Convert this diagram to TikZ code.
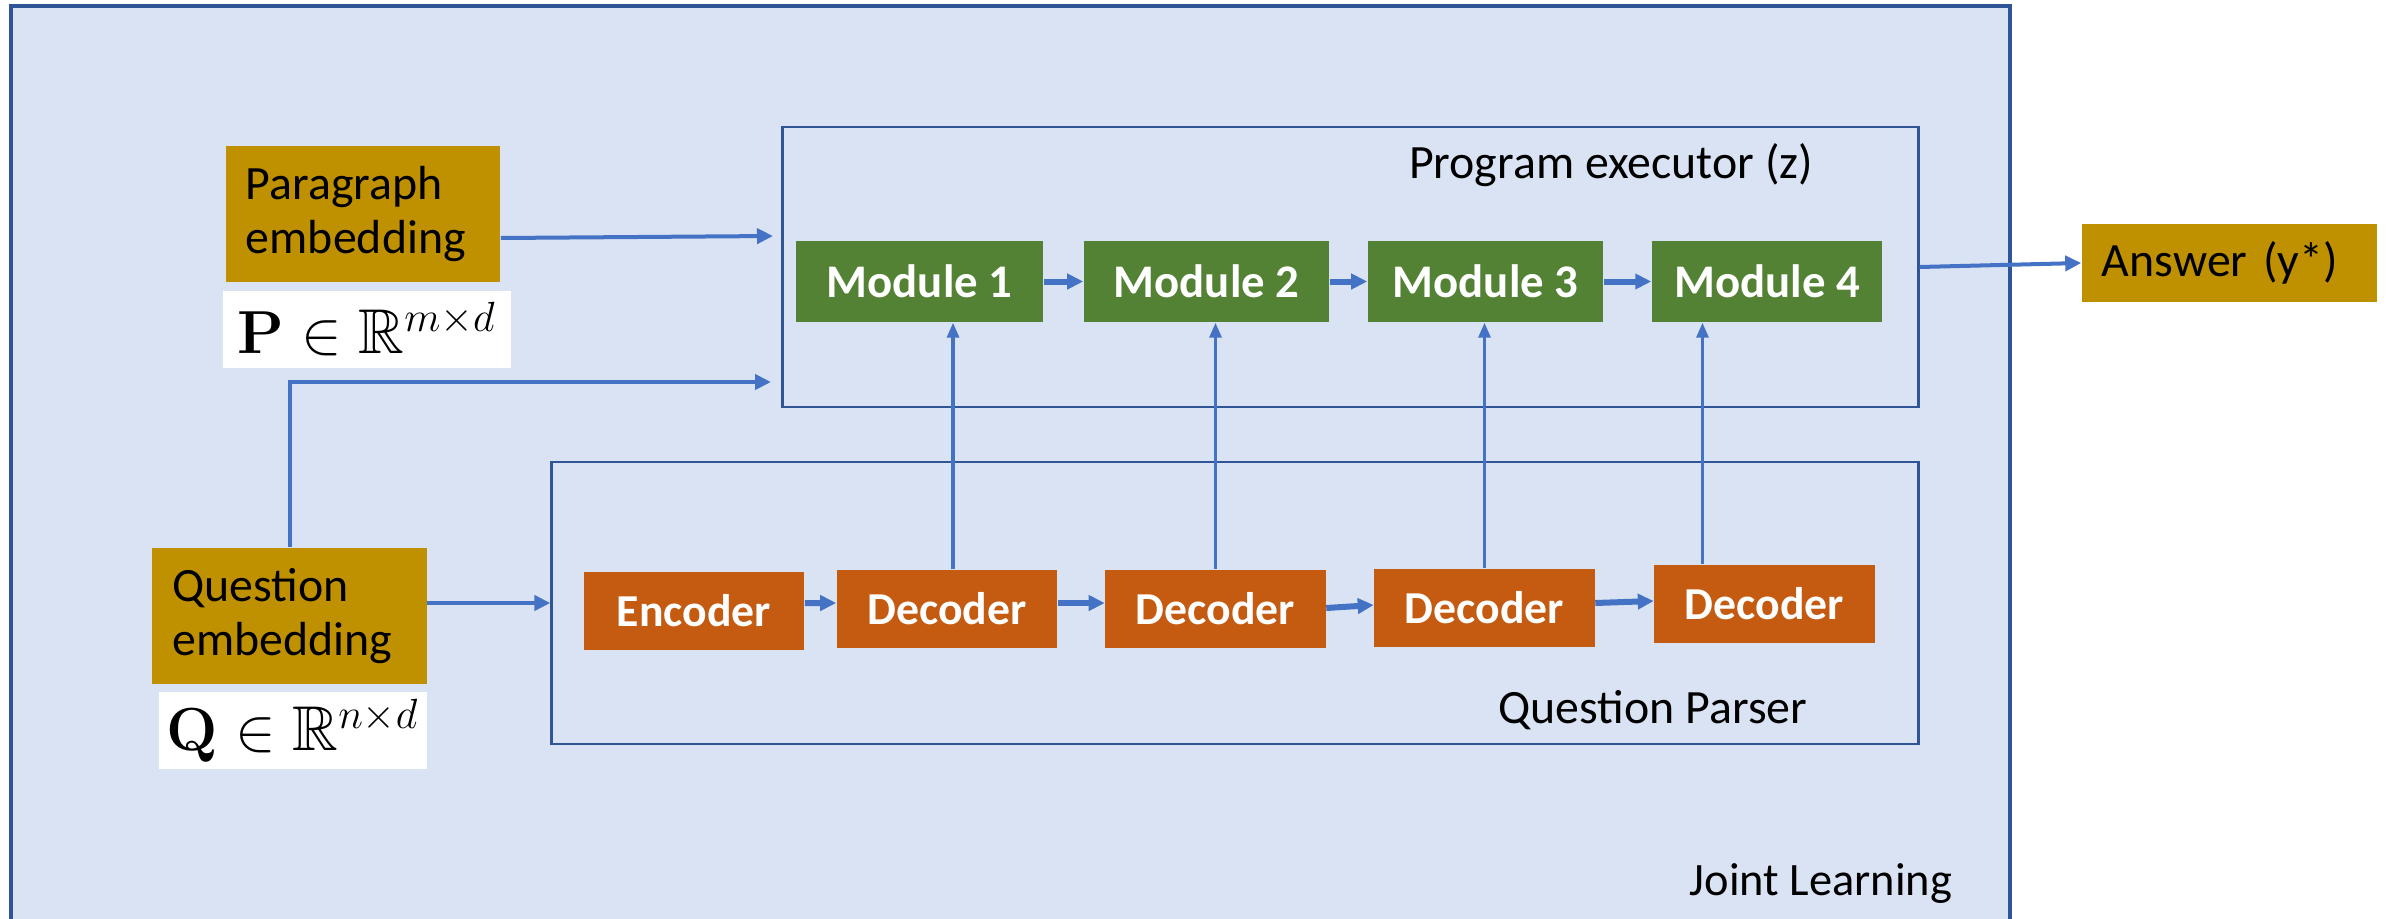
\documentclass[tikz,border=0pt]{standalone}
\usepackage{amsmath,amssymb}
\usepackage[no-math]{fontspec}
\setmainfont{Carlito}
\usetikzlibrary{arrows.meta,positioning}

\definecolor{jointfill}{HTML}{DAE3F3}
\definecolor{frameblue}{HTML}{2F5597}
\definecolor{arrowblue}{HTML}{4472C4}
\definecolor{embedgold}{HTML}{BF9000}
\definecolor{modgreen}{HTML}{548235}
\definecolor{parseorange}{HTML}{C55A11}

\begin{document}
\begin{tikzpicture}[
    x=0.01cm, y=-0.01cm,
    embed/.style={
        rectangle,
        fill=embedgold,
        minimum height=1.36cm,
        inner xsep=0.2cm,
        text width=2.34cm,
        align=left,
        font=\fontsize{13.6}{15.6}\selectfont
    },
    mathbox/.style={
        rectangle,
        fill=white,
        minimum height=0.76cm,
        inner sep=0pt,
        font=\fontsize{18}{21}\selectfont
    },
    module/.style={
        rectangle,
        fill=modgreen,
        text=white,
        minimum height=0.81cm,
        font=\fontsize{13.3}{16}\selectfont\bfseries
    },
    coder/.style={
        rectangle,
        fill=parseorange,
        text=white,
        minimum width=2.2cm,
        minimum height=0.78cm,
        font=\fontsize{13}{16}\selectfont\bfseries
    },
    stage/.style={
        rectangle,
        draw=frameblue,
        line width=0.025cm
    },
    caption/.style={anchor=base, font=\fontsize{13.6}{16}\selectfont},
    flow/.style={draw=arrowblue, line width=0.04cm, -{Triangle[length=0.16cm,width=0.15cm]}},
    hop/.style={flow, line width=0.06cm},
    feed/.style={flow, line width=0.032cm, -{Triangle[length=0.15cm,width=0.12cm]}}
]
\useasboundingbox (0,0) rectangle (2392,918);
\clip (0,0) rectangle (2392,918);

% Joint learning frame
\draw[fill=jointfill, draw=frameblue, line width=0.033cm] (11,6) rectangle (2010,940);
\node[caption, font=\fontsize{13.2}{16}\selectfont] (joint) at (1821,895) {Joint Learning};

% Program executor
\node[stage, minimum width=11.35cm, minimum height=2.8cm] (exec) at (1350.5,267) {};
\node[caption] (execname) at (1611,178) {Program executor (z)};
\node[module, minimum width=2.47cm] (mod1) at (919.5,281.5) {Module 1};
\node[module, minimum width=2.45cm] (mod2) at (1206.5,281.5) {Module 2};
\node[module, minimum width=2.35cm] (mod3) at (1485.5,281.5) {Module 3};
\node[module, minimum width=2.30cm] (mod4) at (1767,281.5) {Module 4};

% Question parser
\node[stage, minimum width=13.66cm, minimum height=2.82cm] (parser) at (1235,603) {};
\node[caption] (parsername) at (1653,723) {Question Parser};
\node[coder] (enc) at (694,611) {Encoder};
\node[coder] (dec1) at (947,609) {Decoder};
\node[coder] (dec2) at (1215.5,609) {Decoder};
\node[coder] (dec3) at (1484.5,608) {Decoder};
\node[coder] (dec4) at (1764.5,604) {Decoder};

% Inputs
\node[embed] (para) at (363,214) {Paragraph\\embedding};
\node[mathbox, minimum width=2.87cm, below=0.08cm of para, xshift=0.04cm] (plabel) {$\mathbf{P} \in \mathbb{R}^{m\times d}$};
\node[embed] (quest) at (289.5,616) {Question\\embedding};
\node[mathbox, minimum width=2.68cm, below=0.07cm of quest, xshift=0.035cm] (qlabel) {$\mathbf{Q} \in \mathbb{R}^{n\times d}$};

% Output
\node[embed, text width=2.55cm, minimum height=0.78cm, font=\fontsize{13.6}{16}\selectfont] (answer) at (2229.5,263) {Answer (y*)};

% Connectors
\coordinate (pin) at (773,236);
\coordinate (qin) at (771,382);
\draw[flow] (para.east |- 0,238) -- (pin);
\draw[flow] (quest.north) |- (qin);
\draw[flow] ([yshift=0.13cm]quest.east) -- ([yshift=0.13cm]quest.east -| parser.west);
\draw[flow] (exec.east) -- (answer.west);

\draw[hop] (mod1) -- (mod2);
\draw[hop] (mod2) -- (mod3);
\draw[hop] (mod3) -- (mod4);

\draw[hop] ([yshift=0.08cm]enc.east) -- ([yshift=0.06cm]dec1.west);
\draw[hop] ([yshift=0.06cm]dec1.east) -- ([yshift=0.06cm]dec2.west);
\draw[hop] ([yshift=0.01cm]dec2.east) -- ([yshift=0.03cm]dec3.west);
\draw[hop] ([yshift=0.05cm]dec3.east) -- ([yshift=0.03cm]dec4.west);

\foreach \n/\dx in {1/6, 2/0, 3/0, 4/-62} {
    \coordinate (f\n) at ([xshift=\dx*0.01cm]dec\n.north);
    \draw[feed] (f\n) -- (f\n |- mod\n.south);
}
\end{tikzpicture}
\end{document}
